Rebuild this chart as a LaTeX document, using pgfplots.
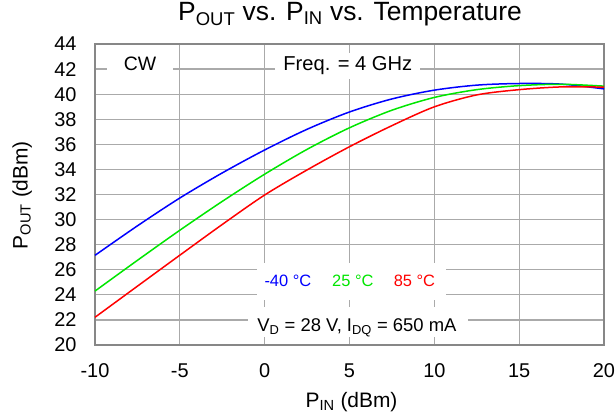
\documentclass[border=0pt]{standalone}
\usepackage{fontspec}
\setmainfont{Liberation Sans}
\usepackage{pgfplots}
\usepackage{pgfplotstable}
\pgfplotsset{compat=1.18}
\definecolor{cblue}{RGB}{0,0,255}
\definecolor{cgreen}{RGB}{0,230,0}
\definecolor{cred}{RGB}{255,0,0}
\definecolor{gridc}{RGB}{170,170,170}
\definecolor{framec}{RGB}{135,135,135}
\pgfplotstableread{
pin   m40    p25    p85
-10   27.15  24.30  22.21
-7.5  29.50  26.75  24.69
-5    31.72  29.15  27.16
-2.5  33.72  31.45  29.61
0     35.55  33.62  31.96
2.5   37.20  35.60  33.96
5     38.58  37.32  35.81
7.5   39.62  38.72  37.49
10    40.32  39.74  38.99
12.5  40.72  40.36  39.94
15    40.85  40.68  40.36
17.5  40.80  40.79  40.58
20    40.42  40.64  40.56
}\datatable
\begin{document}
\begin{tikzpicture}
\useasboundingbox (-95bp,-72bp) rectangle (520bp,345bp);
\begin{axis}[
  at={(0,0)}, anchor=south west,
  scale only axis, width=509bp, height=301bp,
  xmin=-10, xmax=20, ymin=20, ymax=44,
  xtick={-10,-5,...,20}, ytick={20,22,...,44},
  grid=major,
  major grid style={draw=gridc, line width=1.2bp},
  axis line style={draw=framec, line width=2bp},
  major tick length=0pt,
  /pgf/number format/assume math mode=true,
  ticklabel style={font=\fontsize{20}{24}\selectfont},
  yticklabel style={anchor=east, xshift=-15bp},
  xticklabel style={anchor=north, yshift=-15bp},
  title={P\textsubscript{OUT} vs. P\textsubscript{IN} vs. Temperature},
  title style={font=\fontsize{26.5}{30}\selectfont, at={(axis description cs:0.501,1.0575)}, anchor=base},
  xlabel={P\textsubscript{IN} (dBm)},
  xlabel style={font=\fontsize{21}{25}\selectfont, at={(axis description cs:0.504,-0.19)}, anchor=center},
  ylabel={P\textsubscript{OUT} (dBm)},
  ylabel style={font=\fontsize{21}{25}\selectfont, at={(axis description cs:-0.143,0.498)}, anchor=center, rotate=0},
  every axis plot/.append style={line width=1.5bp, smooth},
  clip=false,
]
\addplot[cblue, no markers] table[x=pin, y=m40] {\datatable};
\addplot[cgreen, no markers] table[x=pin, y=p25] {\datatable};
\addplot[cred, no markers] table[x=pin, y=p85] {\datatable};
\node[fill=white, inner xsep=17bp, inner ysep=4bp, anchor=base, font=\fontsize{19.5}{23}\selectfont] at (axis cs:-7.35,41.85) {CW};
\node[fill=white, inner xsep=8bp, inner ysep=4bp, anchor=base, font=\fontsize{20.2}{24}\selectfont] at (axis cs:4.9,41.85) {Freq. = 4 GHz};
\node[fill=white, minimum width=189bp, minimum height=37bp, inner sep=0pt] at (axis cs:5.11,25.06) {};
\node[fill=white, minimum width=220bp, minimum height=30bp, inner sep=0pt] at (axis cs:5.5,21.83) {};
\node[anchor=base, text=cblue, font=\fontsize{16.5}{20}\selectfont] at (axis cs:1.37,24.7) {-40 °C};
\node[anchor=base, text=cgreen, font=\fontsize{16.5}{20}\selectfont] at (axis cs:5.2,24.7) {25 °C};
\node[anchor=base, text=cred, font=\fontsize{16.5}{20}\selectfont] at (axis cs:8.83,24.7) {85 °C};
\node[anchor=base, font=\fontsize{18.5}{22}\selectfont] at (axis cs:5.44,21.06) {V\textsubscript{D} = 28 V, I\textsubscript{DQ} = 650 mA};
\end{axis}
\end{tikzpicture}
\end{document}
